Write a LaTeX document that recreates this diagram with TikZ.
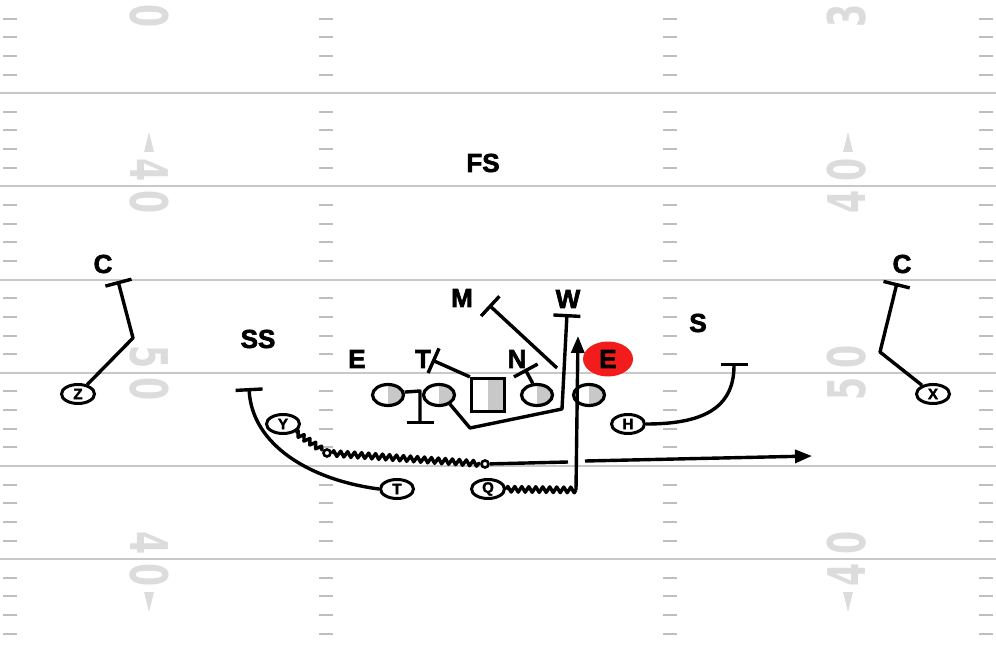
\documentclass[tikz,border=0pt]{standalone}
\usepackage{fontspec}
\setmainfont{Liberation Sans}
\newfontfamily\yardfont{DejaVu Sans}
\newfontfamily\playfont{Liberation Sans Bold}[FakeBold=2.5]
\usetikzlibrary{shapes.geometric,arrows.meta,decorations.pathmorphing}

\definecolor{fieldline}{HTML}{C8C8C8}
\definecolor{hashline}{HTML}{BEBEBE}
\definecolor{fieldnum}{HTML}{DCDCDC}
\definecolor{halfshade}{HTML}{C8C8C8}
\definecolor{keyred}{HTML}{F21C1C}

\tikzset{
  yardline/.style={draw=fieldline, line width=2pt},
  hashmark/.style={draw=hashline, line width=2pt},
  yardnum/.style={text=fieldnum, inner sep=0pt,
    font=\yardfont\bfseries\fontsize{52}{52}\selectfont},
  yardarrow/.style={fill=fieldnum},
  defender/.style={inner sep=0pt, font=\playfont\fontsize{26}{26}\selectfont},
  lineman/.style={ellipse, draw, line width=3.2pt, minimum width=31pt,
    minimum height=21pt, inner sep=0pt,
    path picture={\fill[halfshade] (path picture bounding box.north)
      rectangle (path picture bounding box.south east);}},
  snapper/.style={rectangle, draw, line width=3.2pt, minimum size=33pt,
    inner sep=0pt,
    path picture={\fill[halfshade] (path picture bounding box.north)
      rectangle (path picture bounding box.south east);}},
  skill/.style={ellipse, draw, fill=white, line width=3pt,
    minimum width=33pt, minimum height=19pt, inner sep=0pt,
    font=\playfont\fontsize{15}{15}\selectfont},
  motion/.style={circle, draw, fill=white, line width=2.6pt,
    minimum size=7pt, inner sep=0pt},
  route/.style={line width=3.4pt, line join=round},
  blockend/.style={-{Bar[width=27pt]}},
  runend/.style={-{Triangle[width=13pt,length=17pt]}},
  jiggle/.style={decorate, decoration={zigzag, amplitude=2.8pt,
    segment length=7pt}},
}

\begin{document}
\begin{tikzpicture}[x=1pt, y=-1pt]
  \useasboundingbox (0,0) rectangle (996,652);
  %
  % yard lines, every five yards
  \foreach \k in {1,...,6}
    \draw[yardline] (0,93.2*\k) -- (996,93.2*\k);
  %
  % hash marks: four between each pair of lines
  \foreach \k in {0,...,6}
    \foreach \j in {1,...,4}
      \foreach \hx in {3,319,663,979}
        \draw[hashmark] (\hx,93.2*\k+18.64*\j) -- ++(14,0);
  %
  % yard numbers, each read from its own sideline
  \foreach \yy/\da/\db [count=\i] in {0/3/0, 186.4/4/0, 372.8/5/0, 559.2/4/0}
  {
    \node[yardnum, rotate=-90] (lefta\i)  at (149,\yy-16) {\scalebox{0.64}[1]{\da}};
    \node[yardnum, rotate=-90] (leftb\i)  at (149,\yy+16) {\scalebox{0.64}[1]{\db}};
    \node[yardnum, rotate=90]  (righta\i) at (847,\yy+16) {\scalebox{0.64}[1]{\da}};
    \node[yardnum, rotate=90]  (rightb\i) at (847,\yy-16) {\scalebox{0.64}[1]{\db}};
  }
  % direction arrows beside the 40s
  \fill[yardarrow] (149,132) -- (154,152) -- (144,152) -- cycle;
  \fill[yardarrow] (848,132) -- (853,152) -- (843,152) -- cycle;
  \fill[yardarrow] (149,612) -- (154,592) -- (144,592) -- cycle;
  \fill[yardarrow] (848,612) -- (853,592) -- (843,592) -- cycle;
  %
  % defence
  \node[defender] (fs)   at (483,163) {FS};
  \node[defender] (cl)   at (103,264) {C};
  \node[defender] (cr)   at (902,264) {C};
  \node[defender] (ss)   at (258,339) {SS};
  \node[defender] (mike) at (462,298) {M};
  \node[defender] (will) at (568,299) {W};
  \node[defender] (endl) at (357,359) {E};
  \node[defender] (tack) at (423,359) {T};
  \node[defender] (nose) at (517,359) {N};
  \node[defender] (sam)  at (698,323) {S};
  \node[defender, ellipse, fill=keyred, minimum width=50pt,
    minimum height=35pt] (endr) at (608,359) {E};
  %
  % offence
  \node[lineman] (lt)    at (388,395) {};
  \node[lineman] (lg)    at (439,395) {};
  \node[snapper] (ctr)   at (488,395) {};
  \node[lineman] (rg)    at (537,395) {};
  \node[lineman] (rt)    at (589,395) {};
  \node[skill]   (zed)   at (78,394)  {Z};
  \node[skill]   (ex)    at (933,394) {X};
  \node[skill]   (why)   at (283,424) {Y};
  \node[skill]   (tee)   at (397,489) {T};
  \node[skill]   (qb)    at (488,489) {Q};
  \node[skill]   (aitch) at (628,424) {H};
  \node[motion]  (mo1)   at (327,453) {};
  \node[motion]  (mo2)   at (485,464) {};
  %
  % turning points and route ends
  \coordinate (zbend) at (133,338);
  \coordinate (zstop) at (118,281);
  \coordinate (xbend) at (880,352);
  \coordinate (xstop) at (897,283);
  \coordinate (tblk)  at (432,360);
  \coordinate (nblk)  at (525,369);
  \coordinate (mfree) at (557,368);
  \coordinate (mblk)  at (489,305);
  \coordinate (pull1) at (470,428);
  \coordinate (pull2) at (562,409);
  \coordinate (wblk)  at (567,314);
  \coordinate (lt1)   at (420,391);
  \coordinate (ltblk) at (420,424);
  \coordinate (qturn) at (576,490);
  \coordinate (qtip)  at (578,336);
  \coordinate (gapw)  at (568,462);
  \coordinate (gape)  at (585,461);
  \coordinate (ytip)  at (812,456);
  \coordinate (tstop) at (249,388);
  \coordinate (hstop) at (734,363);
  %
  % blocks
  \draw[route, blockend] (zed) -- (zbend) -- (zstop);
  \draw[route, blockend] (ex) -- (xbend) -- (xstop);
  \draw[route, blockend] (ctr.north west) -- (tblk);
  \draw[route, blockend] (rg.110) -- (nblk);
  \draw[route, blockend] (mfree) -- (mblk);
  \draw[route, blockend] (lg.-40) -- (pull1) -- (pull2) -- (wblk);
  \draw[route, blockend] (lt.10) -- (lt1) -- (ltblk);
  \draw[route, blockend] (tee.west) .. controls (310,480) and (252,445) .. (tstop);
  \draw[route, blockend] (aitch.east) .. controls (700,424) and (734,410) .. (hstop);
  %
  % quarterback and motion
  \draw[route, jiggle] (qb) -- (qturn);
  \draw[route, runend] (qturn) -- (qtip);
  \draw[route, jiggle] (why) -- (mo1);
  \draw[route, jiggle] (mo1) -- (mo2);
  \draw[route] (mo2) -- (gapw);
  \draw[route, runend] (gape) -- (ytip);
\end{tikzpicture}
\end{document}
